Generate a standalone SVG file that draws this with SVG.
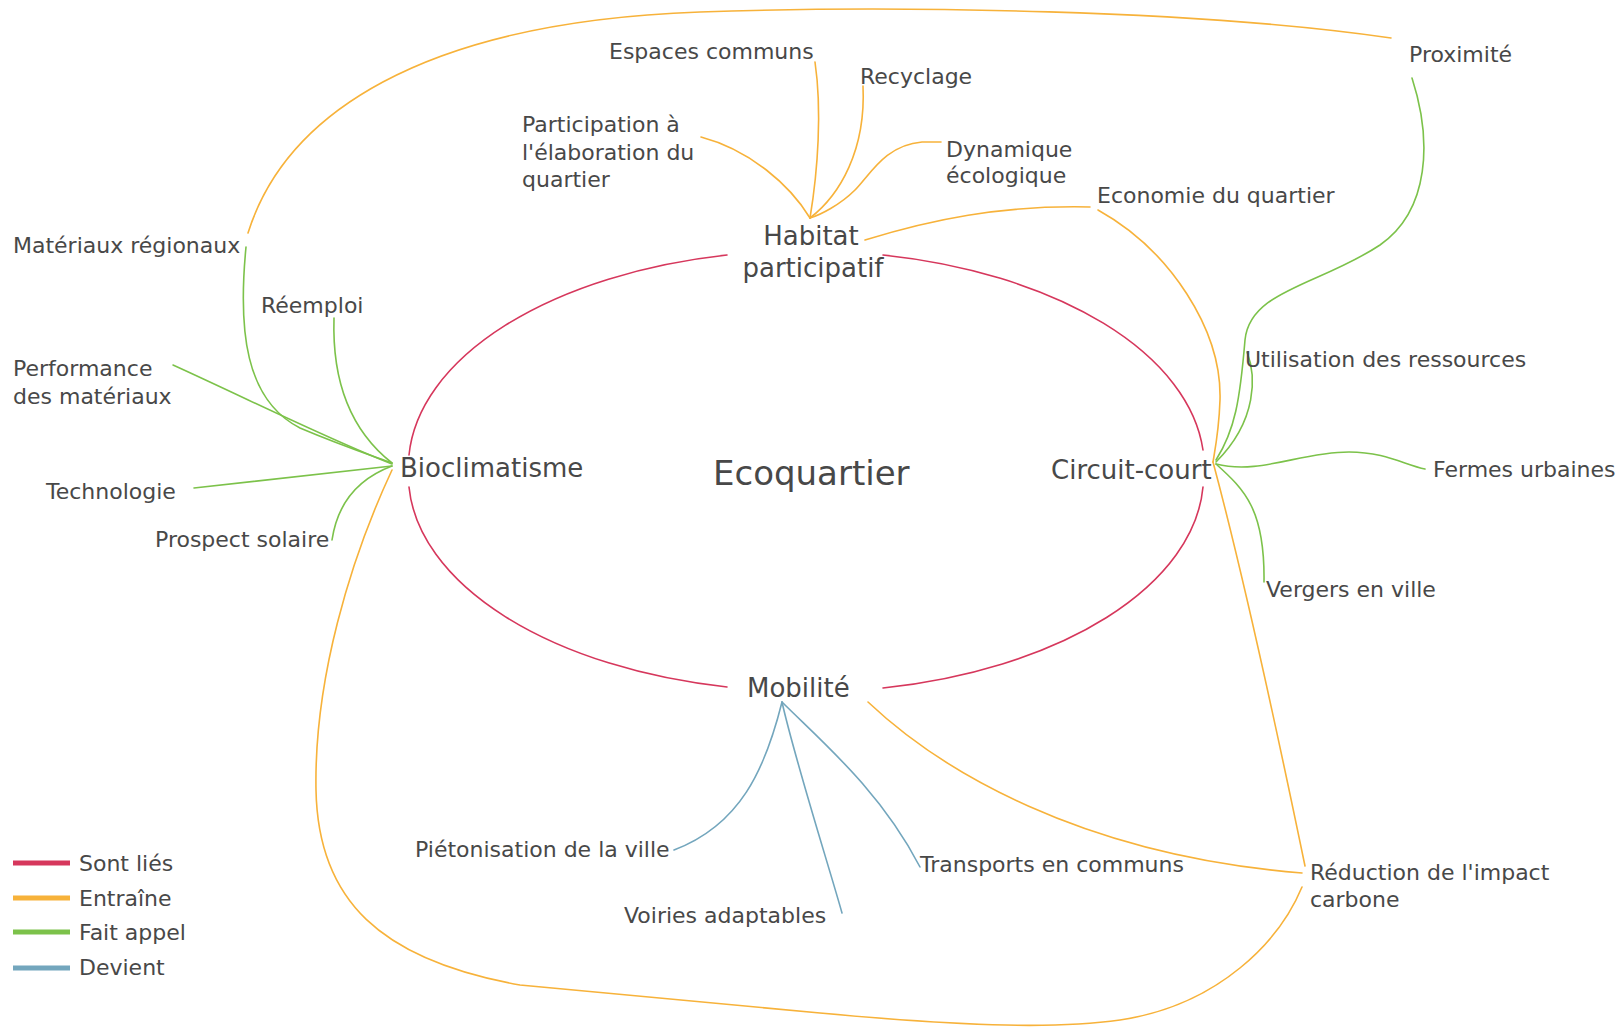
<svg xmlns="http://www.w3.org/2000/svg" width="1623" height="1028" viewBox="0 0 1623 1028">
<style>
text{font-family:"DejaVu Sans","Liberation Sans",sans-serif;fill:#484848}
.s{font-size:22px}
.m{font-size:26px}
.c{font-size:34px}
.l{fill:none;stroke-width:1.6;stroke-linecap:round}
.red{stroke:#d6375c}
.org{stroke:#f7b23a}
.grn{stroke:#7cc24a}
.blu{stroke:#73a6bd}
.leg{stroke-width:5;fill:none}
</style>
<rect width="1623" height="1028" fill="#ffffff"/>
<g id="connectors">
  <!-- Sont liés -->
  <path class="l red" d="M727,255 A397,216 0 0,0 409,455"/>
  <path class="l red" d="M409,487 A397,216 0 0,0 727,687"/>
  <path class="l red" d="M883,255 A397,216 0 0,1 1203,450"/>
  <path class="l red" d="M1203,487 A397,216 0 0,1 883,688"/>
  <!-- Entraîne -->
  <path class="l org" d="M248,233 C285,115 420,22 700,12 C900,5 1200,10 1391,38"/>
  <path class="l org" d="M815,62 C822,110 818,170 810,218"/>
  <path class="l org" d="M863,86 C866,150 840,195 810,218"/>
  <path class="l org" d="M941,142 L922,142 C885,145 870,175 855,190 C840,205 820,215 810,218"/>
  <path class="l org" d="M701,137 C750,150 790,185 810,218"/>
  <path class="l org" d="M865,240 C930,220 1000,205 1090,207"/>
  <path class="l org" d="M1098,210 C1170,250 1222,330 1220,400 C1219,430 1215,450 1213,462"/>
  <path class="l org" d="M1213,462 Q1250,600 1305,866"/>
  <path class="l org" d="M868,702 C940,770 1080,855 1302,873"/>
  <path class="l org" d="M392,470 C350,560 314,680 316,790 C318,900 380,960 520,985 L820,1013 C950,1025 1050,1030 1120,1020 C1220,1005 1280,940 1302,887"/>
  <!-- Fait appel -->
  <path class="l grn" d="M246,247 C238,330 245,400 300,428 C340,445 370,455 392,463"/>
  <path class="l grn" d="M334,318 C332,380 350,430 392,463"/>
  <path class="l grn" d="M173,365 C250,400 330,440 392,464"/>
  <path class="l grn" d="M194,488 L392,466"/>
  <path class="l grn" d="M332,540 C338,500 360,478 392,466"/>
  <path class="l grn" d="M1412,78 C1432,140 1430,210 1380,245 C1320,285 1250,290 1245,340 C1240,400 1235,430 1216,460"/>
  <path class="l grn" d="M1247,352 C1256,375 1258,420 1216,462"/>
  <path class="l grn" d="M1216,464 C1260,475 1300,452 1349,452 C1385,452 1405,465 1425,469"/>
  <path class="l grn" d="M1216,464 C1245,490 1265,510 1264,582"/>
  <!-- Devient -->
  <path class="l blu" d="M674,850 C740,825 765,770 782,702"/>
  <path class="l blu" d="M782,702 C795,760 830,870 842,913"/>
  <path class="l blu" d="M782,702 C820,740 880,790 920,867"/>
</g>
<g id="node-ecoquartier"><text class="c" x="713" y="485">Ecoquartier</text></g>
<g id="node-habitat"><text class="m" x="811" y="245" text-anchor="middle">Habitat</text><text class="m" x="813" y="277" text-anchor="middle">participatif</text></g>
<g id="node-bioclimatisme"><text class="m" x="400" y="477">Bioclimatisme</text></g>
<g id="node-circuit-court"><text class="m" x="1051" y="479">Circuit-court</text></g>
<g id="node-mobilite"><text class="m" x="747" y="697">Mobilité</text></g>
<g id="node-espaces"><text class="s" x="609" y="59">Espaces communs</text></g>
<g id="node-recyclage"><text class="s" x="860" y="84">Recyclage</text></g>
<g id="node-participation"><text class="s" x="522" y="132">Participation à</text><text class="s" x="522" y="160">l'élaboration du</text><text class="s" x="522" y="187">quartier</text></g>
<g id="node-dynamique"><text class="s" x="946" y="157">Dynamique</text><text class="s" x="946" y="183">écologique</text></g>
<g id="node-economie"><text class="s" x="1097" y="203">Economie du quartier</text></g>
<g id="node-proximite"><text class="s" x="1409" y="62">Proximité</text></g>
<g id="node-materiaux"><text class="s" x="13" y="253">Matériaux régionaux</text></g>
<g id="node-reemploi"><text class="s" x="261" y="313">Réemploi</text></g>
<g id="node-performance"><text class="s" x="13" y="376">Performance</text><text class="s" x="13" y="404">des matériaux</text></g>
<g id="node-technologie"><text class="s" x="46" y="499">Technologie</text></g>
<g id="node-prospect"><text class="s" x="155" y="547">Prospect solaire</text></g>
<g id="node-utilisation"><text class="s" x="1245" y="367">Utilisation des ressources</text></g>
<g id="node-fermes"><text class="s" x="1433" y="477">Fermes urbaines</text></g>
<g id="node-vergers"><text class="s" x="1266" y="597">Vergers en ville</text></g>
<g id="node-pietonisation"><text class="s" x="415" y="857">Piétonisation de la ville</text></g>
<g id="node-voiries"><text class="s" x="624" y="923">Voiries adaptables</text></g>
<g id="node-transports"><text class="s" x="920" y="872">Transports en communs</text></g>
<g id="node-reduction"><text class="s" x="1310" y="880">Réduction de l'impact</text><text class="s" x="1310" y="907">carbone</text></g>
<g id="legend">
  <line class="leg red" x1="13" y1="863" x2="70" y2="863"/>
  <line class="leg org" x1="13" y1="898" x2="70" y2="898"/>
  <line class="leg grn" x1="13" y1="932" x2="70" y2="932"/>
  <line class="leg blu" x1="13" y1="968" x2="70" y2="968"/>
  <text class="s" x="79" y="871">Sont liés</text>
  <text class="s" x="79" y="906">Entraîne</text>
  <text class="s" x="79" y="940">Fait appel</text>
  <text class="s" x="79" y="975">Devient</text>
</g>
</svg>
